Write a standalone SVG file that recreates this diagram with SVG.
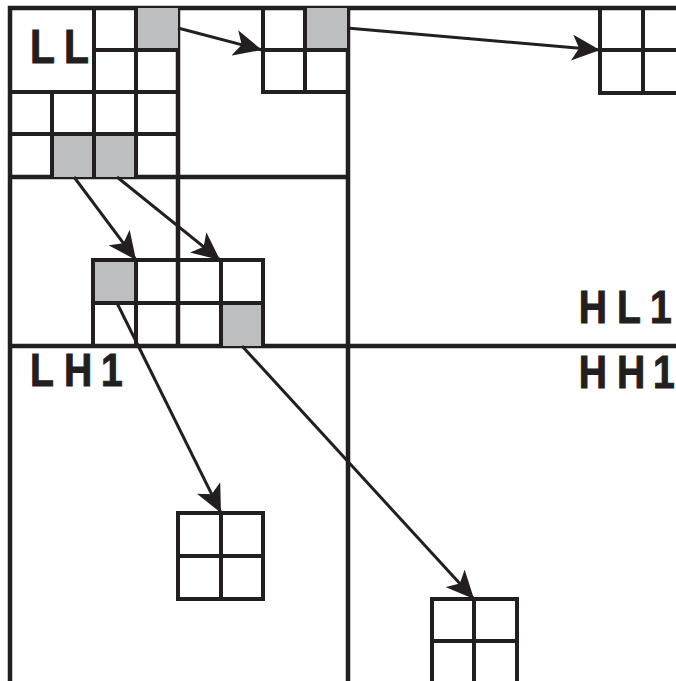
<svg xmlns="http://www.w3.org/2000/svg" width="676" height="681" viewBox="0 0 676 681">
<style>
.g{fill:#bcbec0;stroke:none}
.b{fill:none;stroke:#231f20;stroke-width:4}
.m{fill:none;stroke:#231f20;stroke-width:4.5}
.c{fill:none;stroke:#231f20;stroke-width:3}
.t{font-family:"Liberation Sans",Arial,Helvetica,sans-serif;font-weight:bold;font-size:46px;fill:#231f20;stroke:#231f20;stroke-width:1}
</style>
<defs>
<marker id="ah" markerUnits="userSpaceOnUse" markerWidth="32" markerHeight="26" refX="28" refY="13" orient="auto">
<path d="M0,0 L28,13 L0,26 L7,13 Z" fill="#231f20"/>
</marker>
</defs>
<rect width="676" height="681" fill="#fff"/>
<g id="frame">
<path class="m" d="M10,681 V8 H676 M348,8 V681 M10,346 H676 M178,8 V346 M10,177 H348"/>
</g>
<g id="LL">
<rect class="g" x="136" y="8" width="42" height="42"/>
<rect class="g" x="52" y="134" width="42" height="43"/>
<rect class="g" x="94" y="134" width="42" height="43"/>
<path class="b" d="M52,92 V177 M94,8 V177 M136,8 V177 M94,50 H178 M10,92 H178 M10,134 H178"/>
<text class="t" transform="scale(0.85 1)" x="35.3 75.3" y="63" style="font-size:48px">LL</text>
</g>
<g id="block-top-mid">
<rect class="g" x="305" y="8" width="42" height="42"/>
<path class="b" d="M263,8 V92 H347 M305,8 V92 M263,50 H347"/>
</g>
<g id="block-top-right">
<path class="b" d="M600,8 V93 H686 M643,8 V93 M600,50 H686"/>
</g>
<g id="block-mid">
<rect class="g" x="93" y="260" width="43" height="43"/>
<rect class="g" x="221" y="303" width="42" height="43"/>
<path class="b" d="M93,346 V260 H263 V346 M136,260 V346 M221,260 V346 M93,303 H263"/>
</g>
<g id="block-bottom-1">
<path class="b" d="M178,513 H263 V599 H178 Z M221,513 V599 M178,556 H263"/>
</g>
<g id="block-bottom-2">
<path class="b" d="M432,684 V599 H517 V684 M474,599 V684 M432,641 H517"/>
</g>
<g id="labels">
<text class="t" transform="scale(0.85 1)" x="681 725.8 764.7" y="323">HL1</text>
<text class="t" transform="scale(0.85 1)" x="35.3 75.3 118.8" y="386">LH1</text>
<text class="t" transform="scale(0.85 1)" x="681 725.8 768.2" y="388">HH1</text>
</g>
<g id="connectors">
<path class="c" d="M178,28 L262,50" marker-end="url(#ah)"/>
<path class="c" d="M347,28 L600,50" marker-end="url(#ah)"/>
<path class="c" d="M74,177 L136,260" marker-end="url(#ah)"/>
<path class="c" d="M117,177 L220,260" marker-end="url(#ah)"/>
<path class="c" d="M117,303 L221,513" marker-end="url(#ah)"/>
<path class="c" d="M242,346 L474,599" marker-end="url(#ah)"/>
</g>
</svg>
